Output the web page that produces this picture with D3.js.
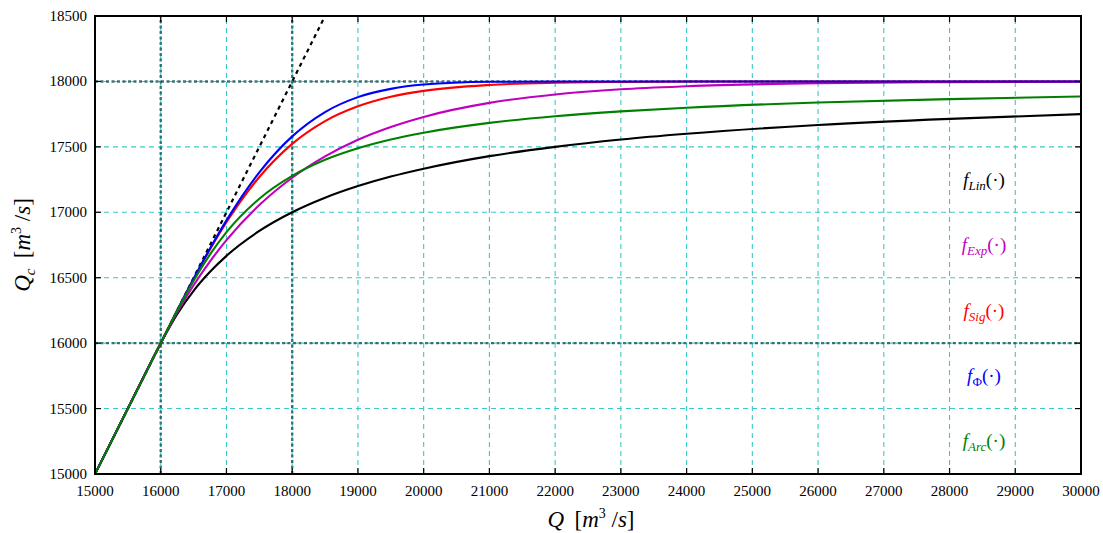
<!DOCTYPE html>
<html>
<head>
<meta charset="utf-8">
<script src="https://cdn.jsdelivr.net/npm/d3@7"></script>
<style>
  body { margin: 0; background: #fff; }
</style>
</head>
<body>
<svg id="chart"></svg>
<script>
const W = 1103, H = 533
const margin = { left: 95, right: 22, top: 16, bottom: 59 }

// Data
const q = [15000, 15500, 16000, 16250, 16500, 16750, 17000, 17500, 18000, 18500, 19000, 19500, 20000, 21000, 22000, 23000, 24000, 26000, 28000, 30000]
const fLin = [15000, 15500, 16000, 16222, 16400, 16545, 16667, 16857, 17000, 17111, 17200, 17273, 17333, 17429, 17500, 17556, 17600, 17667, 17714, 17750]
const fExp = [15000, 15500, 16000, 16235, 16442, 16625, 16787, 17055, 17264, 17427, 17554, 17652, 17729, 17836, 17900, 17940, 17963, 17987, 17995, 17998]
const fSig = [15000, 15500, 16000, 16249, 16490, 16717, 16924, 17270, 17523, 17697, 17810, 17883, 17928, 17973, 17990, 17996, 17999, 18000, 18000, 18000]
const fPhi = [15000, 15500, 16000, 16249, 16492, 16723, 16938, 17305, 17580, 17766, 17880, 17943, 17976, 17997, 18000, 18000, 18000, 18000, 18000, 18000]
const fArc = [15000, 15500, 16000, 16247, 16477, 16678, 16848, 17104, 17278, 17401, 17489, 17556, 17608, 17683, 17734, 17771, 17799, 17839, 17865, 17885]
const identity = [[15000, 15000], [18500, 18500]]

const xTicks = d3.range(15000, 30001, 1000)
const yTicks = d3.range(15000, 18501, 500)
const darkX = [16000, 18000], darkY = [16000, 18000]

const series = [
    { name: 'Lin', vals: fLin, color: '#000000', sub: 'Lin' },
    { name: 'Exp', vals: fExp, color: '#bf00bf', sub: 'Exp' },
    { name: 'Sig', vals: fSig, color: '#ff0000', sub: 'Sig' },
    { name: 'Phi', vals: fPhi, color: '#0000ff', sub: 'Φ' },
    { name: 'Arc', vals: fArc, color: '#008000', sub: 'Arc' }
]

const svg = d3.select('#chart').attr('width', W).attr('height', H)
    .attr('font-family', '"Liberation Serif", "Times New Roman", "DejaVu Serif", serif')

const x = d3.scaleLinear().domain([15000, 30000]).range([margin.left, W - margin.right])
const y = d3.scaleLinear().domain([15000, 18500]).range([H - margin.bottom, margin.top])

svg.append('defs').append('clipPath').attr('id', 'clip')
    .append('rect')
    .attr('x', x(15000)).attr('y', y(18500))
    .attr('width', x(30000) - x(15000)).attr('height', y(15000) - y(18500))

// grid
const grid = svg.append('g')
grid.selectAll('.gx').data(xTicks).join('line')
    .attr('x1', d => x(d)).attr('x2', d => x(d))
    .attr('y1', y(15000)).attr('y2', y(18500))
    .attr('stroke', '#3cc8c8').attr('stroke-width', 1.1).attr('stroke-dasharray', '5,4')
grid.selectAll('.gy').data(yTicks).join('line')
    .attr('y1', d => y(d)).attr('y2', d => y(d))
    .attr('x1', x(15000)).attr('x2', x(30000))
    .attr('stroke', '#3cc8c8').attr('stroke-width', 1.1).attr('stroke-dasharray', '5,4')

// darker dashed reference lines
grid.selectAll('.dx').data(darkX).join('line')
    .attr('x1', d => x(d)).attr('x2', d => x(d))
    .attr('y1', y(15000)).attr('y2', y(18500))
    .attr('stroke', '#1f5f5f').attr('stroke-opacity', 0.85).attr('stroke-width', 2.4).attr('stroke-dasharray', '3,2.5')
grid.selectAll('.dy').data(darkY).join('line')
    .attr('y1', d => y(d)).attr('y2', d => y(d))
    .attr('x1', x(15000)).attr('x2', x(30000))
    .attr('stroke', '#1f5f5f').attr('stroke-opacity', 0.85).attr('stroke-width', 2.4).attr('stroke-dasharray', '3,2.5')

const plot = svg.append('g').attr('clip-path', 'url(#clip)')

const line = d3.line().x((d, i) => x(q[i])).y(d => y(d)).curve(d3.curveMonotoneX)

plot.append('path')
    .datum(identity)
    .attr('d', d3.line().x(d => x(d[0])).y(d => y(d[1])))
    .attr('fill', 'none').attr('stroke', '#000').attr('stroke-width', 2.2).attr('stroke-dasharray', '4,4')

plot.selectAll('.curve').data(series).join('path')
    .attr('d', d => line(d.vals))
    .attr('fill', 'none')
    .attr('stroke', d => d.color)
    .attr('stroke-width', 2.1)

// frame
svg.append('rect')
    .attr('x', x(15000)).attr('y', y(18500))
    .attr('width', x(30000) - x(15000)).attr('height', y(15000) - y(18500))
    .attr('fill', 'none').attr('stroke', '#000').attr('stroke-width', 2)

// inward ticks
const tk = svg.append('g').attr('stroke', '#000').attr('stroke-width', 1.2)
xTicks.forEach(v => {
    tk.append('line').attr('x1', x(v)).attr('x2', x(v)).attr('y1', y(15000)).attr('y2', y(15000) - 6)
    tk.append('line').attr('x1', x(v)).attr('x2', x(v)).attr('y1', y(18500)).attr('y2', y(18500) + 6)
})
yTicks.forEach(v => {
    tk.append('line').attr('y1', y(v)).attr('y2', y(v)).attr('x1', x(15000)).attr('x2', x(15000) + 6)
    tk.append('line').attr('y1', y(v)).attr('y2', y(v)).attr('x1', x(30000)).attr('x2', x(30000) - 6)
})

// tick labels
svg.append('g').selectAll('text').data(xTicks).join('text')
    .attr('x', d => x(d)).attr('y', y(15000) + 22)
    .attr('text-anchor', 'middle').attr('font-size', 15)
    .text(d => d)
svg.append('g').selectAll('text').data(yTicks).join('text')
    .attr('x', x(15000) - 8).attr('y', d => y(d) + 5)
    .attr('text-anchor', 'end').attr('font-size', 15)
    .text(d => d)

// axis labels
function unitLabel(sel, sub) {
    sel.append('tspan').attr('font-style', 'italic').text('Q')
    if (sub) sel.append('tspan').attr('font-style', 'italic').attr('font-size', 15).attr('dy', 5).text(sub)
    sel.append('tspan').attr('dy', sub ? -5 : 0).text('\u2009 [')
    sel.append('tspan').attr('font-style', 'italic').text('m')
    sel.append('tspan').attr('font-size', 14).attr('dy', -9).text('3')
    sel.append('tspan').attr('dy', 9).text(' /')
    sel.append('tspan').attr('font-style', 'italic').text('s')
    sel.append('tspan').text(']')
}
svg.append('text')
    .attr('x', 591).attr('y', 527).attr('text-anchor', 'middle').attr('font-size', 23)
    .call(unitLabel, null)
svg.append('text')
    .attr('transform', 'translate(30,245) rotate(-90)')
    .attr('text-anchor', 'middle').attr('font-size', 23)
    .call(unitLabel, 'c')

// function labels
series.forEach((s, i) => {
    const t = svg.append('text')
        .attr('x', 984).attr('y', 186 + i * 65.3)
        .attr('text-anchor', 'middle').attr('font-size', 19).attr('fill', s.color)
    t.append('tspan').attr('font-style', 'italic').text('f')
    t.append('tspan').attr('font-style', s.sub === 'Φ' ? 'normal' : 'italic').attr('font-size', 13).attr('dy', 4).text(s.sub)
    t.append('tspan').attr('dy', -4).text('(\u00b7)')
})
</script>
</body>
</html>
